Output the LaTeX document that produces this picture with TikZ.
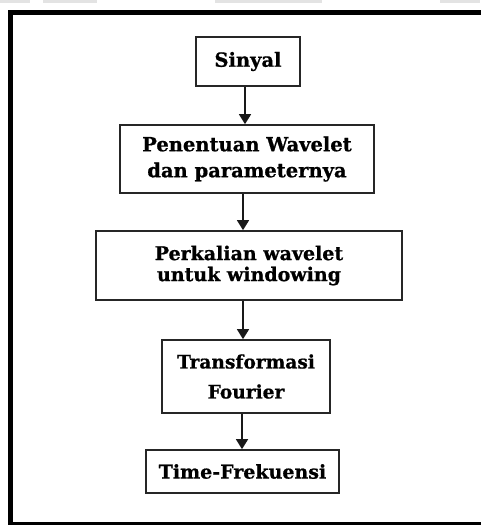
\documentclass[tikz,border=0pt]{standalone}
\usepackage{fontspec}
\setmainfont[BoldFeatures={FakeBold=0.8}]{DejaVu Serif}
\usetikzlibrary{arrows.meta}
\tikzset{
  flowbox/.style={draw=black!85, line width=1.7pt, rectangle, align=center,
    inner sep=0pt, font=\bfseries\fontsize{19.5}{26}\selectfont},
  flowarrow/.style={line width=1.6pt, draw=black!90,
    -{Triangle[width=12pt,length=10pt]}},
}
\begin{document}
\begin{tikzpicture}[x=1pt,y=-1pt]
\useasboundingbox (0,0) rectangle (480,525);
% faint crop artifacts at top edge
\fill[gray!22] (0,0) rectangle (30,3);
\fill[gray!22] (43,0) rectangle (97,3);
\fill[gray!22] (215,0) rectangle (322,3);
\fill[gray!22] (440,0) rectangle (480,3);
% outer frame
\draw[line width=5pt, black] (10.5,12) rectangle (495,524.5);
% boxes
\node[flowbox, minimum width=104pt, minimum height=49pt] (s) at (248,61.5) {Sinyal};
\node[flowbox, minimum width=254pt, minimum height=68pt,
  font=\bfseries\fontsize{19.5}{26}\selectfont] (p) at (247,159) {Penentuan Wavelet\\dan parameternya};
\node[flowbox, minimum width=306pt, minimum height=69pt,
  font=\bfseries\fontsize{19}{21}\selectfont] (w) at (249,265.5) {Perkalian wavelet\\untuk windowing};
\node[flowbox, minimum width=168pt, minimum height=73pt,
  font=\bfseries\fontsize{18.6}{30}\selectfont] (t) at (246,376.5) {Transformasi\\Fourier};
\node[flowbox, minimum width=193pt, minimum height=43pt,
  font=\bfseries\fontsize{19}{21}\selectfont] (f) at (242.5,471.5) {Time-Frekuensi};
% arrows
\draw[flowarrow] (s.south -| 245,0) -- (p.north -| 245,0);
\draw[flowarrow] (p.south -| 243,0) -- (w.north -| 243,0);
\draw[flowarrow] (w.south -| 243,0) -- (t.north -| 243,0);
\draw[flowarrow] (t.south -| 242,0) -- (f.north -| 242,0);
\end{tikzpicture}
\end{document}
